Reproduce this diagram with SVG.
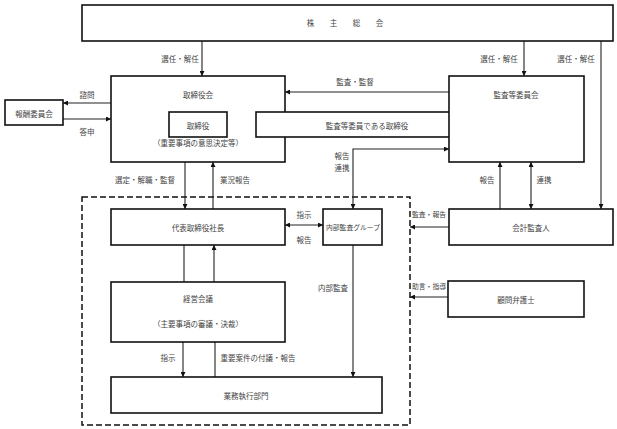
<svg xmlns="http://www.w3.org/2000/svg" width="617" height="429" viewBox="0 0 617 429">
<style>
.box{fill:#fff;stroke:#111;stroke-width:1.6}
.ln{fill:none;stroke:#222;stroke-width:1.1}
text{font-family:"Noto Sans CJK JP","Noto Sans",sans-serif;font-size:7.5px;fill:#444;text-anchor:middle;dominant-baseline:central}
.s{text-anchor:start;font-size:6.8px}
</style>
<defs>
<marker id="ah" viewBox="0 0 8 8" refX="8" refY="4" markerWidth="5" markerHeight="5" orient="auto-start-reverse" markerUnits="userSpaceOnUse">
<path d="M0,0 L8,4 L0,8 z" fill="#111"/>
</marker>
</defs>
<rect x="82" y="197" width="328" height="228" fill="none" stroke="#111" stroke-width="1.5" stroke-dasharray="6,3"/>
<g id="connectors">
<line class="ln" x1="202" y1="41" x2="202" y2="76" marker-end="url(#ah)"/>
<line class="ln" x1="524" y1="41" x2="524" y2="76" marker-end="url(#ah)"/>
<line class="ln" x1="601" y1="41" x2="601" y2="209" marker-end="url(#ah)"/>
<line class="ln" x1="111" y1="103" x2="63" y2="103" marker-end="url(#ah)"/>
<line class="ln" x1="63" y1="119" x2="111" y2="119" marker-end="url(#ah)"/>
<line class="ln" x1="449" y1="92" x2="285" y2="92" marker-end="url(#ah)"/>
<polyline class="ln" points="353,209 353,149 449,149" marker-start="url(#ah)" marker-end="url(#ah)"/>
<line class="ln" x1="500" y1="209" x2="500" y2="162" marker-end="url(#ah)"/>
<line class="ln" x1="531" y1="209" x2="531" y2="162" marker-start="url(#ah)" marker-end="url(#ah)"/>
<line class="ln" x1="185" y1="162" x2="185" y2="209" marker-end="url(#ah)"/>
<line class="ln" x1="213" y1="209" x2="213" y2="162" marker-end="url(#ah)"/>
<line class="ln" x1="285" y1="225" x2="323" y2="225" marker-start="url(#ah)" marker-end="url(#ah)"/>
<line class="ln" x1="184" y1="245" x2="184" y2="282"/>
<line class="ln" x1="214" y1="282" x2="214" y2="245" marker-end="url(#ah)"/>
<line class="ln" x1="183" y1="342" x2="183" y2="377" marker-end="url(#ah)"/>
<line class="ln" x1="215" y1="342" x2="215" y2="377"/>
<line class="ln" x1="353" y1="245" x2="353" y2="377" marker-end="url(#ah)"/>
<line class="ln" x1="449" y1="227" x2="410" y2="227" marker-end="url(#ah)"/>
<line class="ln" x1="448" y1="297" x2="410" y2="297" marker-end="url(#ah)"/>
</g>
<g id="labels">
<text x="180" y="58">選任・解任</text>
<text x="499" y="58">選任・解任</text>
<text x="576" y="58">選任・解任</text>
<text x="87" y="94">諮問</text>
<text x="87" y="131">答申</text>
<text x="355" y="81">監査・監督</text>
<text x="342" y="155">報告</text>
<text x="342" y="167">連携</text>
<text x="487" y="179">報告</text>
<text x="544" y="179">連携</text>
<text x="145" y="179">選定・解職・監督</text>
<text x="235" y="179">業況報告</text>
<text x="304" y="214">指示</text>
<text x="304" y="239">報告</text>
<text x="333" y="287">内部監査</text>
<text class="s" x="412" y="214">監査・報告</text>
<text class="s" x="412" y="286">助言・指導</text>
<text x="168" y="357">指示</text>
<text x="258" y="357">重要案件の付議・報告</text>
</g>
<g id="shareholders"><rect class="box" x="82" y="5" width="531" height="36"/><text x="347" y="22" style="letter-spacing:4px">株　主　総　会</text></g>
<g id="board"><rect class="box" x="111" y="76" width="174" height="86"/><text x="198" y="94">取締役会</text><text x="198" y="142">（重要事項の意思決定等）</text></g>
<g id="director"><rect class="box" x="169" y="112" width="58" height="25"/><text x="198" y="125">取締役</text></g>
<g id="compensation"><rect class="box" x="5" y="100" width="58" height="25"/><text x="34" y="113">報酬委員会</text></g>
<g id="audit-director"><rect class="box" x="256" y="112" width="222" height="25"/><text x="367" y="125">監査等委員である取締役</text></g>
<g id="audit-committee"><rect class="box" x="449" y="76" width="135" height="86"/><text x="516" y="94">監査等委員会</text></g>
<g id="accounting-auditor"><rect class="box" x="449" y="209" width="164" height="36"/><text x="531" y="227">会計監査人</text></g>
<g id="president"><rect class="box" x="111" y="209" width="174" height="36"/><text x="198" y="227">代表取締役社長</text></g>
<g id="internal-audit"><rect class="box" x="323" y="209" width="59" height="36"/><text x="353" y="227" style="font-size:6.8px">内部監査グループ</text></g>
<g id="management-meeting"><rect class="box" x="111" y="282" width="174" height="60"/><text x="198" y="298">経営会議</text><text x="198" y="323">（主要事項の審議・決裁）</text></g>
<g id="operations"><rect class="box" x="111" y="377" width="271" height="36"/><text x="246" y="395">業務執行部門</text></g>
<g id="legal-counsel"><rect class="box" x="448" y="281" width="136" height="36"/><text x="516" y="299">顧問弁護士</text></g>
</svg>
